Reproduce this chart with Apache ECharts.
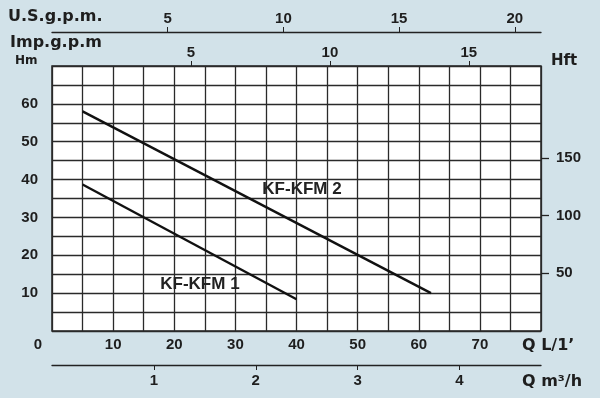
<!DOCTYPE html>
<html>
<head>
<meta charset="utf-8">
<script src="https://cdn.jsdelivr.net/npm/echarts@6/dist/echarts.min.js"></script>
<style>
  html, body { margin: 0; padding: 0; background: #d2e2e9; }
  #chart { width: 600px; height: 398px; }
</style>
</head>
<body>
<div id="chart"></div>
<script>
// pump curves: flow Q (L/min) and head H (m)
const kfkfm1Q = [5, 40];
const kfkfm1H = [38.7, 8.4];
const kfkfm2Q = [5, 62];
const kfkfm2H = [58, 10];

// tick labels for each scale
const flowTicks = [0, 10, 20, 30, 40, 50, 60, 70];
const m3hTicks = [1, 2, 3, 4];
const usTicks = [5, 10, 15, 20];
const impTicks = [5, 10, 15];
const headTicks = [10, 20, 30, 40, 50, 60];
const feetTicks = [50, 100, 150];

const FLOW_MAX = 80;
const HEAD_MAX = 70;

const ink = '#1e1e1e';
const numFont = { color: ink, fontFamily: 'Liberation Sans', fontWeight: 'bold', fontSize: 15 };
const titleFont = { fill: ink, fontFamily: 'DejaVu Sans', fontWeight: 'bold' };

const toPairs = (xs, ys) => xs.map((x, i) => [x, ys[i]]);

const chart = echarts.init(document.getElementById('chart'));

const curve = (name, xs, ys, labelAt) => ({
  name,
  type: 'line',
  xAxisIndex: 0,
  yAxisIndex: 0,
  data: toPairs(xs, ys),
  symbol: 'none',
  lineStyle: { color: '#111', width: 2.4 },
  silent: true,
  markPoint: {
    symbol: 'circle',
    symbolSize: 0,
    silent: true,
    data: [{ name, coord: labelAt }],
    label: {
      show: true,
      position: 'inside',
      formatter: '{b}',
      color: '#222',
      fontFamily: 'Liberation Sans',
      fontWeight: 'bold',
      fontSize: 17,
    },
  },
});

const line = { show: true, onZero: false, lineStyle: { color: '#222', width: 1.3 } };
const noLine = { show: false, onZero: false };

chart.setOption({
  backgroundColor: '#d2e2e9',
  animation: false,
  grid: {
    left: 52,
    right: 59,
    top: 66,
    bottom: 67,
    show: true,
    backgroundColor: '#ffffff',
    borderColor: '#222',
    borderWidth: 1.5,
  },
  xAxis: [
    {
      type: 'value',
      position: 'bottom',
      min: 0,
      max: FLOW_MAX,
      interval: 5,
      axisLine: noLine,
      axisTick: { show: false },
      splitLine: { show: true, lineStyle: { color: '#2a2a2a', width: 1.3 } },
      axisLabel: {
        ...numFont,
        margin: 6,
        customValues: flowTicks,
        formatter: (v) => (v === 0 ? '{z|0}' : String(v)),
        rich: { z: { ...numFont, padding: [0, 28, 0, 0] } },
      },
    },
    {
      type: 'value',
      position: 'bottom',
      offset: 34,
      min: 0,
      max: FLOW_MAX * 60 / 1000,
      interval: 1,
      axisLine: line,
      axisTick: { show: true, length: 5, customValues: m3hTicks, lineStyle: { color: '#222' } },
      splitLine: { show: false },
      axisLabel: { ...numFont, margin: 8, customValues: m3hTicks },
    },
    {
      type: 'value',
      position: 'top',
      offset: 34,
      min: 0,
      max: FLOW_MAX / 3.78541,
      interval: 5,
      axisLine: line,
      axisTick: { show: true, length: 5, customValues: usTicks, lineStyle: { color: '#222' } },
      splitLine: { show: false },
      axisLabel: { ...numFont, margin: 6, customValues: usTicks },
    },
    {
      type: 'value',
      position: 'top',
      offset: 0,
      min: 0,
      max: FLOW_MAX / 4.54609,
      interval: 5,
      axisLine: noLine,
      axisTick: { show: true, length: 5, customValues: impTicks, lineStyle: { color: '#222' } },
      splitLine: { show: false },
      axisLabel: { ...numFont, margin: 6, customValues: impTicks },
    },
  ],
  yAxis: [
    {
      type: 'value',
      position: 'left',
      min: 0,
      max: HEAD_MAX,
      interval: 5,
      axisLine: noLine,
      axisTick: { show: false },
      splitLine: { show: true, lineStyle: { color: '#2a2a2a', width: 1.3 } },
      axisLabel: { ...numFont, margin: 14, customValues: headTicks },
    },
    {
      type: 'value',
      position: 'right',
      min: 0,
      max: HEAD_MAX / 0.3048,
      interval: 50,
      axisLine: noLine,
      axisTick: { show: true, length: 8, customValues: feetTicks, lineStyle: { color: '#222', width: 1.3 } },
      splitLine: { show: false },
      axisLabel: { ...numFont, margin: 15, customValues: feetTicks },
    },
  ],
  graphic: [
    { type: 'text', left: 8, top: 9, style: { ...titleFont, text: 'U.S.g.p.m.', fontSize: 16 } },
    { type: 'text', left: 10, top: 35, style: { ...titleFont, text: 'Imp.g.p.m', fontSize: 16 } },
    { type: 'text', left: 15, top: 55, style: { ...titleFont, text: 'Hm', fontSize: 12 } },
    { type: 'text', left: 551, top: 54, style: { ...titleFont, text: 'Hft', fontSize: 15 } },
    { type: 'text', left: 522, top: 338, style: { ...titleFont, text: 'Q L/1’', fontSize: 16 } },
    { type: 'text', left: 522, top: 374, style: { ...titleFont, text: 'Q m³/h', fontSize: 16 } },
  ],
  series: [
    curve('KF-KFM 1', kfkfm1Q, kfkfm1H, [24.2, 12.4]),
    curve('KF-KFM 2', kfkfm2Q, kfkfm2H, [40.9, 37.5]),
  ],
});
</script>
</body>
</html>
